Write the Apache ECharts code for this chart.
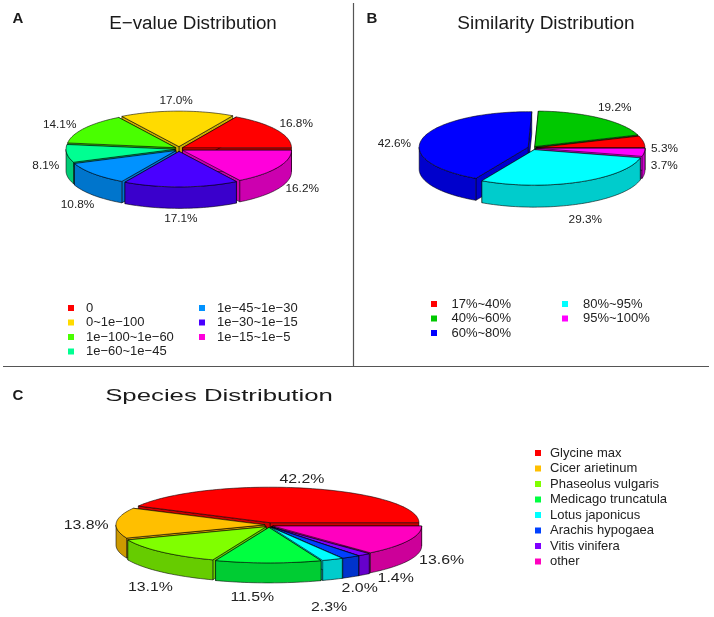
<!DOCTYPE html>
<html>
<head>
<meta charset="utf-8">
<style>html,body{margin:0;padding:0;background:#fff}#c{width:714px;height:617px}</style>
<script src="https://cdn.jsdelivr.net/npm/echarts@6/dist/echarts.min.js"></script>
</head>
<body>
<div id="c"></div>
<script>
// ---- data ----
const evalueNames = ['0', '0~1e\u2212100', '1e\u2212100~1e\u221260', '1e\u221260~1e\u221245', '1e\u221245~1e\u221230', '1e\u221230~1e\u221215', '1e\u221215~1e\u22125'];
const evalueValues = [16.8, 17.0, 14.1, 8.1, 10.8, 17.1, 16.2];
const evalueColors = ['#FF0000', '#FFDB00', '#49FF00', '#00FF92', '#0092FF', '#4900FF', '#FF00DB'];

const similarityNames = ['17%~40%', '40%~60%', '60%~80%', '80%~95%', '95%~100%'];
const similarityValues = [5.3, 19.2, 42.6, 29.3, 3.7];
const similarityColors = ['#FF0000', '#00C800', '#0000FF', '#00FFFF', '#FF00FF'];

const speciesNames = ['Glycine max', 'Cicer arietinum', 'Phaseolus vulgaris', 'Medicago truncatula', 'Lotus japonicus', 'Arachis hypogaea', 'Vitis vinifera', 'other'];
const speciesValues = [42.2, 13.8, 13.1, 11.5, 2.3, 2.0, 1.4, 13.6];
const speciesColors = ['#FF0000', '#FFBF00', '#80FF00', '#00FF40', '#00FFFF', '#0040FF', '#8000FF', '#FF00BF'];

// ---- layout (pixels) ----
const FONT = '"Liberation Sans", Arial, sans-serif';
const INK = '#222';
const EXPLODE_Y = 0.6;
const pieLayouts = [
  { names: evalueNames, values: evalueValues, colors: evalueColors,
    cx: 179, cy: 149, rx: 109, ry: 35.5, depth: 21.5, labelScale: 1, labelFont: 11.8,
    explode: [4, 4, 4, 4, 4, 4, 4],
    labelOffsets: [[23, -7], [-1, -13], [-28, -5], [-25, 13], [-19, 33], [0, 34], [28, 22]] },
  { names: similarityNames, values: similarityValues, colors: similarityColors,
    cx: 533, cy: 148, rx: 109, ry: 35.5, depth: 22, labelScale: 1, labelFont: 11.8,
    explode: [3, 3, 5, 3, 3],
    labelOffsets: [[24, 6.5], [17, -12], [-33.5, 5.4], [8, 39], [23, 14]] },
  { names: speciesNames, values: speciesValues, colors: speciesColors,
    cx: 269, cy: 525, rx: 149, ry: 35.5, depth: 20, labelScale: 1.27, labelFont: 12.5,
    explode: [4, 4, 4, 4, 4, 4, 4, 4],
    labelOffsets: [[-3, -11], [-34, 2], [-14, 37], [-16, 37], [-2, 50], [11, 34], [34, 26], [37, 21]] }
];

function darken(hex) {
  const n = parseInt(hex.slice(1), 16);
  const f = c => Math.round(c * 0.8);
  return 'rgb(' + f(n >> 16) + ',' + f((n >> 8) & 255) + ',' + f(n & 255) + ')';
}

function sliceRenderer(p, i, a0, a1) {
  const mid = (a0 + a1) / 2;
  const ox = p.explode[i] * Math.cos(mid) / p.rx;
  const oy = EXPLODE_Y * p.explode[i] * Math.sin(mid) / p.ry;
  const color = p.colors[i];
  const wall = darken(color);
  const edge = { stroke: 'rgba(0,0,0,0.8)', lineWidth: 0.7, lineJoin: 'round' };
  return function (params, api) {
    const pt = (a, r, down) => api.coord([ox + r * Math.cos(a), oy + r * Math.sin(a) - down / p.ry]);
    const arc = (s, e, down) => {
      const out = [];
      const n = Math.max(2, Math.ceil((e - s) / 0.03));
      for (let k = 0; k <= n; k++) out.push(pt(s + (e - s) * k / n, 1, down));
      return out;
    };
    const kids = [];
    const poly = (points, fill, z2) => kids.push({
      type: 'polygon', z2: z2, shape: { points: points },
      style: Object.assign({ fill: fill }, edge)
    });
    // radial walls
    [a0, a1].forEach(a => poly([pt(a, 0, 0), pt(a, 1, 0), pt(a, 1, p.depth), pt(a, 0, p.depth)], wall, 1));
    // outer wall, the part that faces the viewer
    const s = Math.max(a0, Math.PI), e = Math.min(a1, 2 * Math.PI);
    if (e > s) poly(arc(s, e, 0).concat(arc(s, e, p.depth).reverse()), wall, 2);
    // top face
    poly([pt(0, 0, 0)].concat(arc(a0, a1, 0)), color, 3);
    // percentage label
    const rim = api.coord([Math.cos(mid), Math.sin(mid)]);
    kids.push({
      type: 'text', z2: 5, silent: true,
      x: rim[0] + p.labelOffsets[i][0], y: rim[1] + p.labelOffsets[i][1], scaleX: p.labelScale,
      style: { text: api.value(0).toFixed(1) + '%', fill: INK, font: p.labelFont + 'px ' + FONT, align: 'center', verticalAlign: 'middle' }
    });
    return { type: 'group', children: kids };
  };
}

const grids = [], xAxes = [], yAxes = [], series = [];
pieLayouts.forEach((p, pi) => {
  grids.push({ left: p.cx - p.rx, top: p.cy - p.ry, width: 2 * p.rx, height: 2 * p.ry, containLabel: false });
  xAxes.push({ gridIndex: pi, type: 'value', min: -1, max: 1, show: false });
  yAxes.push({ gridIndex: pi, type: 'value', min: -1, max: 1, show: false });
  const total = p.values.reduce((a, b) => a + b, 0);
  let run = 0;
  const slices = p.values.map((v, i) => {
    const a0 = run / total * 2 * Math.PI; run += v;
    const a1 = run / total * 2 * Math.PI;
    return { i, v, a0, a1, back: Math.sin((a0 + a1) / 2) };
  });
  // painter's order: back of the pie first; legend keeps its own order
  slices.slice().sort((a, b) => b.back - a.back).forEach((s, order) => {
    series.push({
      type: 'custom', name: p.names[s.i], coordinateSystem: 'cartesian2d',
      xAxisIndex: pi, yAxisIndex: pi, z: 2 + order, clip: false,
      itemStyle: { color: p.colors[s.i] },
      encode: { x: 0, y: 0 }, data: [[s.v]],
      renderItem: sliceRenderer(p, s.i, s.a0, s.a1)
    });
  });
});

function legendBlock(names, left, top, rowGap, textGap) {
  return {
    data: names.map(n => ({ name: n, icon: 'rect' })), orient: 'vertical', left: left, top: top,
    itemWidth: 6, itemHeight: 6, itemGap: rowGap, selectedMode: false, padding: 0,
    textStyle: { fontFamily: FONT, fontSize: 13, color: INK, lineHeight: 14, padding: [0, 0, 0, textGap] }
  };
}
const legends = [
  legendBlock(evalueNames.slice(0, 4), 68, 301, 0.5, 7),
  legendBlock(evalueNames.slice(4), 199, 301, 0.5, 7),
  legendBlock(similarityNames.slice(0, 3), 431, 297, 0.5, 9.5),
  legendBlock(similarityNames.slice(3), 562, 297, 0.5, 10),
  legendBlock(speciesNames, 535, 446, 1.5, 4)
];

const txt = (text, x, y, font, extra) => ({
  type: 'text', x, y, silent: true,
  ...(extra || {}),
  style: { text, font: font + ' ' + FONT, fill: '#1a1a1a', align: 'center', verticalAlign: 'middle' }
});
const rule = (x1, y1, x2, y2) => ({
  type: 'line', silent: true, shape: { x1, y1, x2, y2 }, style: { stroke: '#555', lineWidth: 1.2 }
});

const chart = echarts.init(document.getElementById('c'));
chart.setOption({
  animation: false,
  backgroundColor: '#fff',
  grid: grids, xAxis: xAxes, yAxis: yAxes, legend: legends, series: series,
  graphic: { elements: [
    rule(353.5, 3, 353.5, 366), rule(3, 366.5, 709, 366.5),
    txt('A', 18, 19, 'bold 15px'), txt('B', 372, 19, 'bold 15px'), txt('C', 18, 396, 'bold 15px'),
    txt('E\u2212value Distribution', 193, 24, '18.8px'),
    txt('Similarity Distribution', 546, 24, '19px'),
    txt('Species Distribution', 219, 397, '16px', { scaleX: 1.61 })
  ] }
});
</script>
</body>
</html>
